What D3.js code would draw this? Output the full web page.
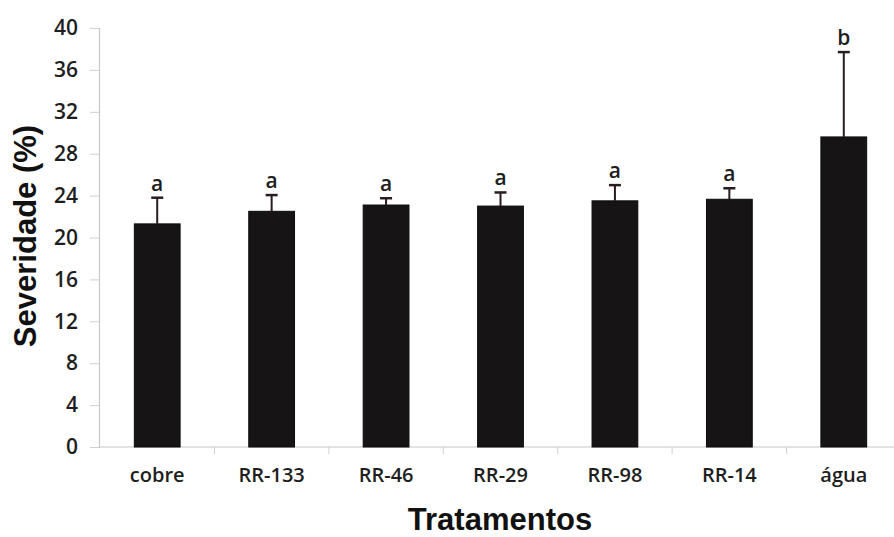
<!DOCTYPE html>
<html>
<head>
<meta charset="utf-8">
<script src="https://cdn.jsdelivr.net/npm/d3@7"></script>
<style>
body { margin: 0; background: #fff; }
svg text { fill: #222; }
</style>
</head>
<body>
<div class="chart"></div>
<script>
var categories = ["cobre", "RR-133", "RR-46", "RR-29", "RR-98", "RR-14", "água"];
var means = [21.3, 22.5, 23.1, 23.0, 23.5, 23.65, 29.6];
var errors = [2.5, 1.55, 0.65, 1.3, 1.5, 1.05, 8.1];
var letters = ["a", "a", "a", "a", "a", "a", "b"];
var yTicks = [0, 4, 8, 12, 16, 20, 24, 28, 32, 36, 40];

var W = 894, H = 537;
var x = d3.scaleBand().domain(categories).range([100, 901]).paddingInner(0.6).paddingOuter(0.3);
var y = d3.scaleLinear().domain([0, 40]).range([447, 28]);

var svg = d3.select(".chart").append("svg")
	.attr("width", W)
	.attr("height", H);

// y axis
var yAxis = svg.append("g")
	.attr("transform", "translate(99,0)")
	.call(d3.axisLeft(y).tickValues(yTicks).tickSize(9).tickPadding(12));
yAxis.select(".domain").attr("stroke", "#c8c8c8").attr("stroke-width", 1.2);
yAxis.selectAll(".tick line").attr("stroke", "#d0d0d0");
yAxis.selectAll(".tick text")
	.style("font-family", "Open Sans")
	.style("font-weight", "600")
	.style("font-size", "21px")
	.style("fill", "#1e1e1e");

// x axis
var xAxis = svg.append("g")
	.attr("transform", "translate(0,447)")
	.call(d3.axisBottom(x).tickSize(0).tickPadding(21));
xAxis.select(".domain").attr("d", "M99,0H894").attr("stroke", "#c8c8c8").attr("stroke-width", 1.2);
xAxis.selectAll(".tick text")
	.style("font-family", "Open Sans")
	.style("font-weight", "600")
	.style("font-size", "20px")
	.style("fill", "#1e1e1e");

// category separators
var step = x.step();
svg.selectAll(".sep").data(categories.slice(0, -1)).enter().append("line")
	.attr("class", "sep")
	.attr("x1", function(d) { return x(d) + x.bandwidth() + (step - x.bandwidth()) / 2; })
	.attr("x2", function(d) { return x(d) + x.bandwidth() + (step - x.bandwidth()) / 2; })
	.attr("y1", 447).attr("y2", 454)
	.attr("stroke", "#d0d0d0");

// bars
svg.selectAll(".bar").data(means).enter().append("rect")
	.attr("class", "bar")
	.attr("x", function(d, i) { return x(categories[i]); })
	.attr("width", x.bandwidth())
	.attr("y", function(d) { return y(d); })
	.attr("height", function(d) { return y(0) - y(d); })
	.attr("fill", "#161414")
	.attr("stroke", "#0c0a0a")
	.attr("stroke-width", 1);

// error bars (upper)
var cx = function(i) { return x(categories[i]) + x.bandwidth() / 2; };
svg.selectAll(".err").data(means).enter().append("line")
	.attr("class", "err")
	.attr("x1", function(d, i) { return cx(i); })
	.attr("x2", function(d, i) { return cx(i); })
	.attr("y1", function(d) { return y(d); })
	.attr("y2", function(d, i) { return y(d + errors[i]); })
	.attr("stroke", "#2a1c1e")
	.attr("stroke-width", 2);
svg.selectAll(".cap").data(means).enter().append("line")
	.attr("class", "cap")
	.attr("x1", function(d, i) { return cx(i) - 6; })
	.attr("x2", function(d, i) { return cx(i) + 6; })
	.attr("y1", function(d, i) { return y(d + errors[i]); })
	.attr("y2", function(d, i) { return y(d + errors[i]); })
	.attr("stroke", "#2a1c1e")
	.attr("stroke-width", 2.5);

// letters
svg.selectAll(".letter").data(means).enter().append("text")
	.attr("class", "letter")
	.attr("x", function(d, i) { return cx(i); })
	.attr("y", function(d, i) { return y(d + errors[i]) - 7; })
	.attr("text-anchor", "middle")
	.style("font-family", "Open Sans")
	.style("font-weight", "600")
	.style("font-size", "21px")
	.style("fill", "#1e1e1e")
	.text(function(d, i) { return letters[i]; });

// axis titles
svg.append("text")
	.attr("transform", "translate(36,236) rotate(-90)")
	.attr("text-anchor", "middle")
	.style("font-family", "Liberation Sans")
	.style("font-weight", "bold")
	.style("font-size", "31px")
	.style("fill", "#111")
	.text("Severidade (%)");
svg.append("text")
	.attr("x", 500).attr("y", 530)
	.attr("text-anchor", "middle")
	.style("font-family", "Liberation Sans")
	.style("font-weight", "bold")
	.style("font-size", "31px")
	.style("fill", "#111")
	.text("Tratamentos");
</script>
</body>
</html>
